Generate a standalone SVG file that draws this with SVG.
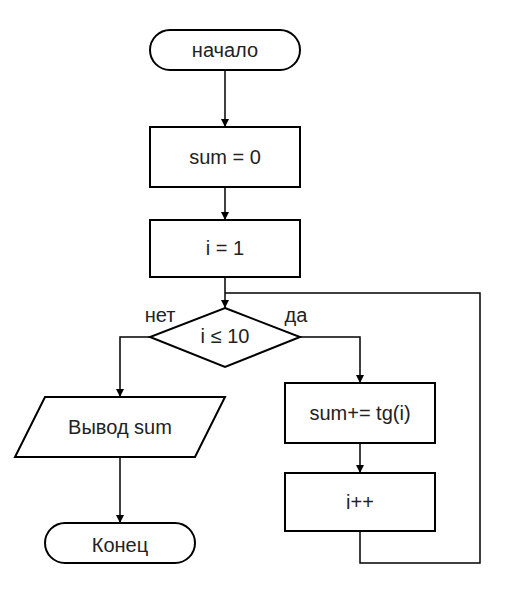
<svg xmlns="http://www.w3.org/2000/svg" width="510" height="600" viewBox="0 0 510 600">
<style>
.s{fill:#fff;stroke:#000;stroke-width:2}
.c{fill:none;stroke:#000;stroke-width:1.5}
text{font-family:"Liberation Sans",Arial,sans-serif;font-size:20px;fill:#222;text-anchor:middle;dominant-baseline:central}
</style>
<defs>
<marker id="a" markerWidth="8" markerHeight="10" refX="8" refY="5" orient="auto" markerUnits="userSpaceOnUse">
<path d="M0,1 L8,5 L0,9 Z" fill="#000"/>
</marker>
</defs>
<g id="connectors">
<path class="c" d="M225,70 V127" marker-end="url(#a)"/>
<path class="c" d="M225,187 V220" marker-end="url(#a)"/>
<path class="c" d="M225,277 V308" marker-end="url(#a)"/>
<path class="c" d="M150,337 H120 V397" marker-end="url(#a)"/>
<path class="c" d="M300,337 H360 V383" marker-end="url(#a)"/>
<path class="c" d="M360,443 V473" marker-end="url(#a)"/>
<path class="c" d="M120,457 V523" marker-end="url(#a)"/>
<path class="c" d="M360,531 V563 H480 V293 H225"/>
<text x="160" y="315">нет</text>
<text x="296" y="315">да</text>
</g>
<g id="start"><rect class="s" x="150" y="30" width="150" height="40" rx="20"/><text x="225" y="50">начало</text></g>
<g id="sum0"><rect class="s" x="150" y="127" width="150" height="60"/><text x="225" y="157">sum = 0</text></g>
<g id="i1"><rect class="s" x="150" y="220" width="150" height="57"/><text x="225" y="248">i = 1</text></g>
<g id="cond"><path class="s" d="M225,308 L300,337 L225,367 L150,337 Z"/><text x="225" y="336">i ≤ 10</text></g>
<g id="output"><path class="s" d="M45,397 L225,397 L195,457 L15,457 Z"/><text x="120" y="427">Вывод sum</text></g>
<g id="end"><rect class="s" x="45" y="523" width="150" height="40" rx="20"/><text x="120" y="545">Конец</text></g>
<g id="add"><rect class="s" x="285" y="383" width="150" height="60"/><text x="360" y="413">sum+= tg(i)</text></g>
<g id="inc"><rect class="s" x="285" y="473" width="150" height="58"/><text x="360" y="502">i++</text></g>
</svg>
